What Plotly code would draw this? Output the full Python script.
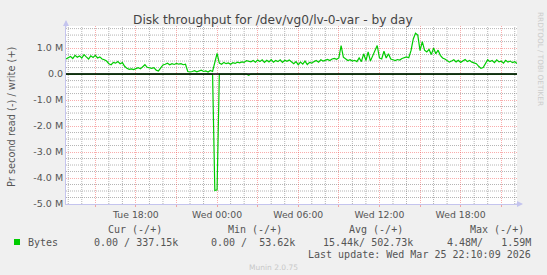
import numpy as np
import pandas as pd
import plotly.graph_objects as go

# ---------------- data (values in MB/s, 10-minute samples) ----------------
start_time = "2026-03-24 12:50"
end_time = "2026-03-25 22:10"
step = "10min"

write_m = [
    0.58, 0.62, 0.68, 0.60, 0.72, 0.65, 0.70, 0.62, 0.75, 0.66, 0.58, 0.70, 0.64,
    0.72, 0.62, 0.66, 0.58, 0.55,
    0.50, 0.40, 0.36,
    0.45, 0.42, 0.48, 0.40, 0.44,
    0.30, 0.22, 0.18, 0.20, 0.17, 0.21,
    0.25, 0.20, 0.28, 0.36, 0.26,
    0.24, 0.22, 0.25, 0.15, 0.12, 0.22,
    0.35, 0.38, 0.42, 0.36, 0.40, 0.37, 0.41, 0.38, 0.40, 0.36,
    0.38, 0.10,
    0.08, 0.10, 0.13, 0.09, 0.11, 0.15, 0.10, 0.12, 0.08, 0.14, 0.10,
    0.42, 0.80,
    0.42, 0.38, 0.45, 0.40, 0.43, 0.38, 0.44, 0.41, 0.46, 0.43, 0.47, 0.45,
    0.52, 0.50,
    0.47, 0.52, 0.46, 0.54, 0.48, 0.55, 0.45, 0.53, 0.47, 0.56, 0.46, 0.52, 0.48, 0.55, 0.45, 0.53, 0.49, 0.54, 0.46,
    0.40, 0.48, 0.36, 0.46, 0.38, 0.50, 0.37, 0.45, 0.42,
    0.48, 0.52, 0.46, 0.55, 0.50, 0.53, 0.56, 0.52,
    0.58, 0.60, 0.57, 0.62,
    1.10,
    0.65, 0.60,
    0.52, 0.55, 0.50, 0.53, 0.48,
    0.62, 0.48, 0.78, 0.52, 0.85, 0.50, 0.70,
    0.90, 1.10,
    0.62, 0.58,
    0.88, 0.62, 0.78,
    0.58, 0.55, 0.52, 0.56, 0.54,
    0.60, 0.62, 0.66, 0.63,
    0.90, 1.35, 1.57, 1.50, 0.90, 1.25,
    0.92, 0.85, 0.95,
    0.75, 1.00, 0.78, 0.92, 0.72,
    0.62, 0.58,
    0.52, 0.46, 0.50, 0.55, 0.47, 0.53, 0.45, 0.50, 0.56, 0.48, 0.52, 0.46,
    0.42, 0.40,
    0.30, 0.22, 0.25,
    0.42, 0.55, 0.48,
    0.52, 0.44, 0.55, 0.47, 0.50, 0.42, 0.53, 0.46, 0.50, 0.44, 0.48, 0.40,
]
read_m = [0.0] * 66 + [4.48, 4.45] + [0.0] * 13 + [0.05] + [0.0] * 119

times = pd.date_range(start=start_time, periods=len(write_m), freq=step)

y_tick_vals = [-5, -4, -3, -2, -1, 0, 1]
y_tick_text = ["-5.0 M", "-4.0 M", "-3.0 M", "-2.0 M", "-1.0 M", "0.0", "1.0 M"]

x_tick_vals = ["2026-03-24 15:00", "2026-03-24 18:00", "2026-03-24 21:00",
               "2026-03-25 00:00", "2026-03-25 03:00", "2026-03-25 06:00",
               "2026-03-25 09:00", "2026-03-25 12:00", "2026-03-25 15:00",
               "2026-03-25 18:00", "2026-03-25 21:00"]
x_tick_text = ["", "Tue 18:00", "", "Wed 00:00", "", "Wed 06:00", "",
               "Wed 12:00", "", "Wed 18:00", ""]

title_text = "Disk throughput for /dev/vg0/lv-0-var - by day"
y_title = "Pr second read (-) / write (+)"
series_name = "Bytes"
headers = ["Cur (-/+)", "Min (-/+)", "Avg (-/+)", "Max (-/+)"]
values = ["0.00 / 337.15k", "0.00 /  53.62k", "15.44k/ 502.73k", "4.48M/   1.59M"]
last_update = "Last update: Wed Mar 25 22:10:09 2026"
version_text = "Munin 2.0.75"
side_text = "RRDTOOL / TOBI OETIKER"

y_range = [-5.0, 1.85]
minor_y_step = 0.25
minor_x_step = "1h"

# ---------------- layout helpers ----------------
W, H = 547, 275
L, R, T, B = 66, 30, 26, 71
PW, PH = W - L - R, H - T - B


def fx(px):
    return (px - L) / PW


def fy(py):
    return (H - B - py) / PH


GREEN = "#00CC00"
AXIS = "#C4C4EE"
MGRID = "rgba(240,60,60,0.42)"
GRID = "rgba(120,120,120,0.55)"
TXT = "#555555"
SANS = "DejaVu Sans"
MONO = "DejaVu Sans Mono"
DASH = "1px,1px"

fig = go.Figure()
fig.add_trace(go.Scatter(x=times, y=[-v for v in read_m], mode="lines",
                         line=dict(color=GREEN, width=1.2), hoverinfo="skip"))
fig.add_trace(go.Scatter(x=times, y=write_m, mode="lines",
                         line=dict(color=GREEN, width=1.2), hoverinfo="skip"))

fig.update_layout(
    width=W, height=H,
    margin=dict(l=L, r=R, t=T, b=B, pad=0),
    paper_bgcolor="#F0F0F0",
    plot_bgcolor="#FFFFFF",
    showlegend=False,
    font=dict(family=SANS, size=10, color=TXT),
)
fig.update_xaxes(
    range=[start_time, end_time],
    tickmode="array", tickvals=x_tick_vals, ticktext=x_tick_text,
    showgrid=True, gridcolor=MGRID, griddash=DASH, gridwidth=1,
    ticks="outside", ticklen=2, tickcolor=MGRID,
    showline=True, linecolor=AXIS, linewidth=1, zeroline=False,
    tickfont=dict(family=SANS, size=9.3, color=TXT),
)
fig.update_yaxes(
    range=y_range,
    tickmode="array", tickvals=y_tick_vals, ticktext=y_tick_text,
    showgrid=True, gridcolor=MGRID, griddash=DASH, gridwidth=1,
    ticks="", ticklabelstandoff=0,
    showline=True, linecolor=AXIS, linewidth=1, zeroline=False,
    tickfont=dict(family=SANS, size=9.5, color=TXT),
)

# minor grid lines (every hour / every 0.25 M), skipping the major positions
major_x = set(pd.to_datetime(x_tick_vals))
for t in pd.date_range("2026-03-24 13:00", "2026-03-25 22:00", freq=minor_x_step):
    if t in major_x:
        continue
    fig.add_shape(type="line", xref="x", yref="y", x0=t, x1=t,
                  y0=y_range[0], y1=y_range[1],
                  line=dict(color=GRID, width=1, dash=DASH), layer="below")
for v in np.arange(y_range[0], y_range[1], minor_y_step):
    if abs(v - round(v)) < 1e-9:
        continue
    fig.add_shape(type="line", xref="x", yref="y", x0=start_time, x1=end_time,
                  y0=float(v), y1=float(v),
                  line=dict(color=GRID, width=1, dash=DASH), layer="below")

# black baseline at zero (munin HRULE)
fig.add_shape(type="line", xref="x", yref="y", x0=start_time, x1=end_time, y0=0, y1=0,
              line=dict(color="#000000", width=1.5), layer="above")

ann = []
ann.append(dict(text=title_text, x=fx(273), y=fy(20), xref="paper", yref="paper",
                showarrow=False, xanchor="center", yanchor="middle",
                font=dict(family=SANS, size=12.2, color="#444444")))
ann.append(dict(text=y_title, x=fx(11), y=fy(117), xref="paper", yref="paper",
                showarrow=False, textangle=-90, xanchor="center", yanchor="middle",
                font=dict(family=SANS, size=9.8, color=TXT)))
ann.append(dict(text=side_text, x=fx(541), y=fy(59), xref="paper", yref="paper",
                showarrow=False, textangle=90, xanchor="center", yanchor="middle",
                font=dict(family=SANS, size=7.3, color="#CCCCCC")))

head_right = [164, 284, 405, 526]
val_right = [180, 297, 415, 533]
for h, px in zip(headers, head_right):
    ann.append(dict(text=h.replace(" ", "\u00a0"), x=fx(px), y=fy(229), xref="paper", yref="paper",
                    showarrow=False, xanchor="right", yanchor="middle",
                    font=dict(family=MONO, size=10, color=TXT)))
for v, px in zip(values, val_right):
    ann.append(dict(text=v.replace(" ", "\u00a0"), x=fx(px), y=fy(242), xref="paper", yref="paper",
                    showarrow=False, xanchor="right", yanchor="middle",
                    font=dict(family=MONO, size=10, color=TXT)))
ann.append(dict(text=series_name, x=fx(26), y=fy(242), xref="paper", yref="paper",
                showarrow=False, xanchor="left", yanchor="middle",
                font=dict(family=MONO, size=10, color=TXT)))
ann.append(dict(text=last_update.replace(" ", "\u00a0"), x=fx(533), y=fy(254.5),
                xref="paper", yref="paper", showarrow=False, xanchor="right", yanchor="middle",
                font=dict(family=MONO, size=10, color=TXT)))
ann.append(dict(text=version_text, x=fx(273), y=fy(267), xref="paper", yref="paper",
                showarrow=False, xanchor="center", yanchor="middle",
                font=dict(family=SANS, size=7.5, color="#C8C8C8")))
# axis arrows
ann.append(dict(text="", x=fx(66), y=fy(20), xref="paper", yref="paper",
                showarrow=True, ax=0, ay=9, arrowhead=2, arrowsize=1.2, arrowwidth=1,
                arrowcolor=AXIS))
ann.append(dict(text="", x=fx(523), y=fy(204), xref="paper", yref="paper",
                showarrow=True, ax=-9, ay=0, arrowhead=2, arrowsize=1.2, arrowwidth=1,
                arrowcolor=AXIS))
fig.update_layout(annotations=ann)

# legend colour square
fig.add_shape(type="rect", xref="paper", yref="paper",
              x0=fx(14), x1=fx(20), y0=fy(245), y1=fy(239),
              fillcolor=GREEN, line=dict(width=0))

fig.write_html("out.html", config={"displayModeBar": False})
